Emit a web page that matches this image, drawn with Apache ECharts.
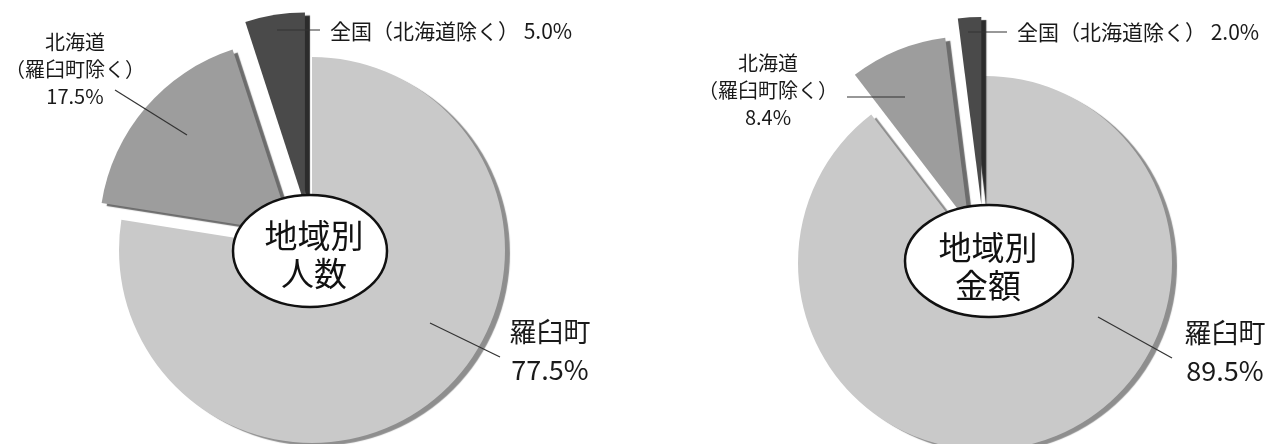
<!DOCTYPE html>
<html><head><meta charset="utf-8">
<script src="https://cdn.jsdelivr.net/npm/echarts@6/dist/echarts.min.js"></script>
<style>html,body{margin:0;padding:0;background:#fff}#c{width:1283px;height:444px}</style>
</head><body><div id="c"></div>
<script>
// ---- data ----
const categories = ['羅臼町', '北海道（羅臼町除く）', '全国（北海道除く）'];
const peopleShare = [77.5, 17.5, 5.0];   // 地域別 人数 (%)
const amountShare = [89.5, 8.4, 2.0];    // 地域別 金額 (%)
const centerTitles = ['地域別\n人数', '地域別\n金額'];

// ---- styles / layout ----
const sliceColors = ['#c9c9c9', '#9d9d9d', '#4a4a4a'];
const rimColors = ['#8e8e8e', '#6c6c6c', '#2c2c2c'];
const labelFont = [{fontSize: 27, lineHeight: 38}, {fontSize: 20, lineHeight: 27}, {fontSize: 21, lineHeight: 24}];
const FONT = '"Noto Sans CJK JP", "Noto Sans CJK SC", sans-serif';

const layouts = [
  { values: peopleShare, center: [312, 250], r: 193, explode: [0, 26, 45],
    oval: {cx: 310, cy: 251, rx: 77, ry: 56, tx: 314, ty: 254},
    labels: [
      {x: 550, y: 351, align: 'center', line: [[430, 323], [500, 357]]},
      {x: 75, y: 69, align: 'center', line: [[187, 135], [115, 90]]},
      {x: 330, y: 31, align: 'left', line: [[277, 30], [320, 30]]}
    ] },
  { values: amountShare, center: [985, 263], r: 187, explode: [0, 43, 59],
    oval: {cx: 989, cy: 261, rx: 84, ry: 56, tx: 988, ty: 266},
    labels: [
      {x: 1225, y: 352, align: 'center', line: [[1098, 317], [1172, 358]]},
      {x: 768, y: 90, align: 'center', line: [[905, 97], [847, 97]]},
      {x: 1017, y: 32, align: 'left', line: [[968, 32], [1007, 32]]}
    ] }
];

function labelText(i, name, v) {
  const pct = v.toFixed(1) + '%';
  if (i === 0) return name + '\n' + pct;
  if (i === 1) return name.replace('（', '\n（') + '\n' + pct;
  return name + ' ' + pct;
}

const series = [];
layouts.forEach(function (L) {
  const total = L.values.reduce((a, b) => a + b, 0);
  let cum = 0;
  L.values.forEach(function (v, k) {
    const mid = (cum + v / 2) / total * 2 * Math.PI;
    cum += v;
    const d = L.explode[k];
    const c = [L.center[0] + Math.sin(mid) * d, L.center[1] - Math.cos(mid) * d];
    const spot = L.labels[k];
    series.push({
      type: 'pie',
      center: c,
      radius: L.r,
      startAngle: 90,
      clockwise: true,
      silent: true,
      animation: false,
      avoidLabelOverlap: false,
      z: 2,
      data: L.values.map(function (val, i) {
        const on = i === k;
        return {
          value: val,
          name: categories[i],
          itemStyle: on ? {color: sliceColors[i], shadowColor: rimColors[i], shadowBlur: 1, shadowOffsetX: 5, shadowOffsetY: 3}
                        : {opacity: 0},
          label: on ? Object.assign({show: true}, labelFont[i]) : {show: false},
          labelLine: {show: false}
        };
      }),
      label: {
        position: 'outside',
        color: '#1a1a1a',
        fontFamily: FONT,
        formatter: function (p) { return labelText(p.dataIndex, p.name, p.value); }
      },
      labelLine: {show: false},
      labelLayout: function () {
        return {x: spot.x, y: spot.y, align: spot.align, verticalAlign: 'middle'};
      }
    });
  });
});

const graphic = [];
layouts.forEach(function (L, j) {
  L.labels.forEach(function (s) {
    graphic.push({type: 'polyline', z: 50, silent: true,
      shape: {points: s.line}, style: {stroke: '#333', lineWidth: 1.2, fill: null}});
  });
  const o = L.oval;
  graphic.push({type: 'ellipse', z: 100, silent: true,
    shape: {cx: o.cx, cy: o.cy, rx: o.rx, ry: o.ry},
    style: {fill: '#fff', stroke: '#111', lineWidth: 2.5}});
  graphic.push({type: 'text', z: 101, silent: true, x: o.tx, y: o.ty,
    style: {text: centerTitles[j], fontSize: 33, fontFamily: FONT, fill: '#111',
            align: 'center', verticalAlign: 'middle', lineHeight: 38}});
});

const chart = echarts.init(document.getElementById('c'));
chart.setOption({backgroundColor: '#fff', animation: false, series: series, graphic: graphic});
</script></body></html>
